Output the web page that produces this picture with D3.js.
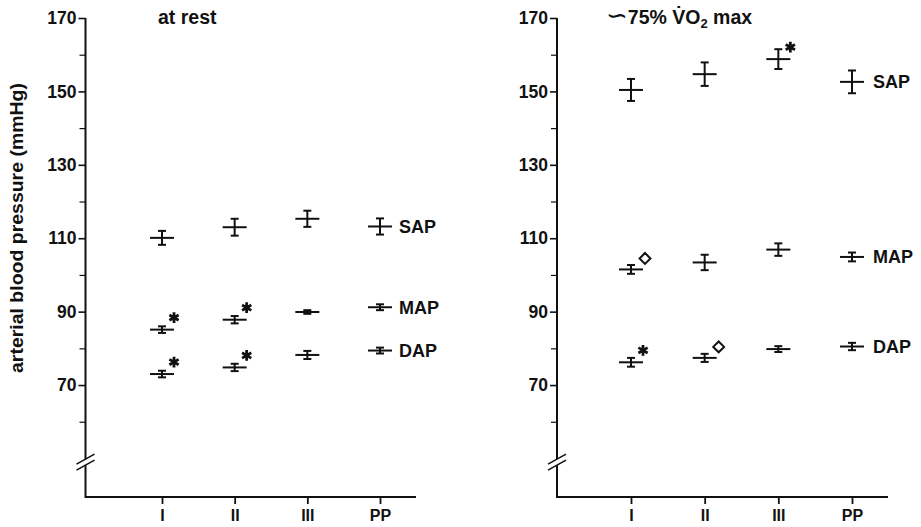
<!DOCTYPE html>
<html><head><meta charset="utf-8">
<script src="https://cdn.jsdelivr.net/npm/d3@7"></script>
<style>
body{margin:0;background:#fff}
text{font-family:"Liberation Sans",Arial,Helvetica,sans-serif;font-weight:bold;fill:#111}
</style>
</head><body><svg id="c" width="921" height="527"></svg>
<script>
const groups = ["I","II","III","PP"];
const seriesNames = ["SAP","MAP","DAP"];
const yTicksMajor = [70,90,110,130,150,170];
const yTicksMinor = [60,80,100,120,140,160];
const yLabel = "arterial blood pressure (mmHg)";
// at rest
const restSAP = [110.1,113.0,115.3,113.2];
const restSAPErr = [1.9,2.3,2.2,2.2];
const restMAP = [85.1,87.8,89.9,91.2];
const restMAPErr = [0.9,1.0,0.5,0.8];
const restDAP = [73.0,74.8,78.2,79.4];
const restDAPErr = [0.9,1.0,1.1,0.8];
// ~75% VO2 max
const exSAP = [150.4,154.7,158.8,152.6];
const exSAPErr = [3.0,3.2,2.7,3.1];
const exMAP = [101.5,103.4,106.9,104.9];
const exMAPErr = [1.2,2.1,1.7,1.2];
const exDAP = [76.2,77.4,79.8,80.5];
const exDAPErr = [1.2,1.1,0.8,1.0];
// significance marks
const restMarks = [{s:"MAP",g:"I",m:"star"},{s:"MAP",g:"II",m:"star"},{s:"DAP",g:"I",m:"star"},{s:"DAP",g:"II",m:"star"}];
const exMarks = [{s:"SAP",g:"III",m:"star"},{s:"MAP",g:"I",m:"diamond"},{s:"DAP",g:"I",m:"star"},{s:"DAP",g:"II",m:"diamond"}];

const svg = d3.select("#c");
const y = d3.scaleLinear().domain([39.5,170]).range([497,18]);
const breakVal = 49;
const ink = "#111";

const panels = [
  {axisX:85.5, xr:[162,380], labelX:399, data:{SAP:[restSAP,restSAPErr],MAP:[restMAP,restMAPErr],DAP:[restDAP,restDAPErr]}, marks:restMarks},
  {axisX:557, xr:[631,852], labelX:873, data:{SAP:[exSAP,exSAPErr],MAP:[exMAP,exMAPErr],DAP:[exDAP,exDAPErr]}, marks:exMarks}
];

panels.forEach(p => {
  const x = d3.scalePoint().domain(groups).range(p.xr);
  const g = svg.append("g");
  const ax = p.axisX, yBottom = y.range()[0], yb = y(breakVal);
  g.append("line").attr("x1",ax).attr("x2",ax).attr("y1",y(170)).attr("y2",yb-3).attr("stroke",ink).attr("stroke-width",2);
  g.append("line").attr("x1",ax).attr("x2",ax).attr("y1",yb+3).attr("y2",yBottom+1).attr("stroke",ink).attr("stroke-width",2);
  [-3,3].forEach(o => g.append("line").attr("x1",ax-9).attr("y1",yb+o+5).attr("x2",ax+9).attr("y2",yb+o-5).attr("stroke",ink).attr("stroke-width",1.6));
  const ya = d3.axisLeft(y).tickValues(yTicksMajor).tickSize(7).tickPadding(2).tickFormat(d3.format("d"));
  const yg = g.append("g").attr("transform",`translate(${ax},0)`).call(ya);
  yg.select(".domain").remove();
  yg.selectAll(".tick line").attr("stroke",ink).attr("stroke-width",1.6);
  yg.selectAll(".tick text").attr("font-size",17.5).attr("font-family",null).style("fill",ink);
  const ym = d3.axisLeft(y).tickValues(yTicksMinor).tickSize(6).tickFormat("");
  const ymg = g.append("g").attr("transform",`translate(${ax},0)`).call(ym);
  ymg.select(".domain").remove();
  ymg.selectAll(".tick line").attr("stroke",ink).attr("stroke-width",1.2);
  const xa = d3.axisBottom(x).tickSize(7).tickPadding(6);
  const xg = g.append("g").attr("transform",`translate(0,${yBottom})`).call(xa);
  xg.select(".domain").attr("d",`M${ax},0H${p.xr[1]+36}`).attr("stroke",ink).attr("stroke-width",2);
  xg.selectAll(".tick line").attr("stroke",ink).attr("stroke-width",1.8);
  xg.selectAll(".tick text").attr("font-size",16).attr("font-family",null).style("fill",ink);
  seriesNames.forEach(s => {
    const [vals, errs] = p.data[s];
    groups.forEach((gr,i) => {
      const cx = x(gr), v = vals[i], e = errs[i];
      g.append("line").attr("x1",cx-12).attr("x2",cx+12).attr("y1",y(v)).attr("y2",y(v)).attr("stroke",ink).attr("stroke-width",2);
      g.append("line").attr("x1",cx).attr("x2",cx).attr("y1",y(v-e)).attr("y2",y(v+e)).attr("stroke",ink).attr("stroke-width",2);
      [v-e,v+e].forEach(c => g.append("line").attr("x1",cx-4).attr("x2",cx+4).attr("y1",y(c)).attr("y2",y(c)).attr("stroke",ink).attr("stroke-width",2));
    });
    g.append("text").attr("x",p.labelX).attr("y",y(vals[3])).attr("dy","0.36em").attr("font-size",18).text(s);
  });
  p.marks.forEach(mk => {
    const i = groups.indexOf(mk.g);
    const v = p.data[mk.s][0][i];
    const cx = x(mk.g) + 12, cy = y(v) - 12;
    if (mk.m === "star") {
      g.append("path").attr("d",d3.symbol(d3.symbolAsterisk,80)()).attr("transform",`translate(${cx},${cy})`).attr("stroke",ink).attr("stroke-width",2.8).attr("fill","none");
    } else {
      g.append("path").attr("d",d3.symbol(d3.symbolDiamond2,75)()).attr("transform",`translate(${cx+2},${cy+1})`).attr("stroke",ink).attr("stroke-width",2).attr("fill","none");
    }
  });
});

svg.append("text").attr("x",158).attr("y",24).attr("font-size",19.5).text("at rest");
const t2 = svg.append("text").attr("x",606).attr("y",24).attr("font-size",19.5);
t2.append("tspan").attr("font-size",26).attr("font-family","'DejaVu Sans'").attr("font-weight","normal").text("∽");
t2.append("tspan").text("75% V\u0307O");
t2.append("tspan").attr("font-size",13).attr("dy",4).text("2");
t2.append("tspan").attr("dy",-4).text(" max");

svg.append("text").attr("transform","translate(23,228) rotate(-90)").attr("text-anchor","middle").attr("font-size",18).attr("textLength",290).attr("lengthAdjust","spacingAndGlyphs").text(yLabel);
</script>
</body></html>
